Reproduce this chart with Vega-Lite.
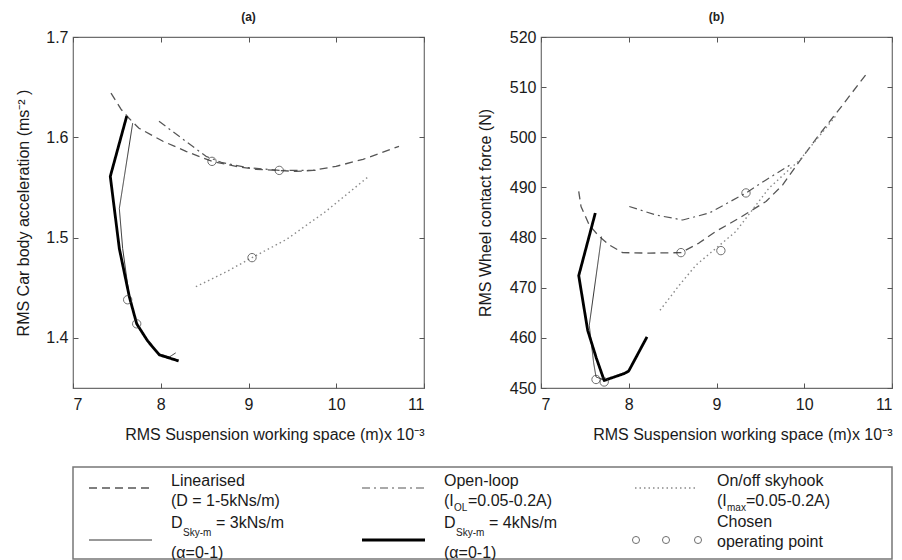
{
  "$schema": "https://vega.github.io/schema/vega-lite/v6.json",
  "background": "white",
  "padding": {"left": 15, "top": 10, "right": 0, "bottom": 0},
  "spacing": 23,
  "config": {
    "font": "Liberation Sans",
    "view": {"stroke": "#6e6e6e", "strokeWidth": 1.2},
    "axis": {
      "labelFont": "Liberation Sans",
      "labelFontSize": 16,
      "labelColor": "#1a1a1a",
      "titleFont": "Liberation Sans",
      "titleFontSize": 16,
      "titleFontWeight": "normal",
      "titleColor": "#1a1a1a",
      "tickSize": -5,
      "tickColor": "#555555",
      "domain": false,
      "grid": false
    },
    "title": {"font": "Liberation Sans", "fontSize": 12, "fontWeight": "bold", "color": "#222222", "offset": 5}
  },
  "datasets": {
    "aLines": [
      {"s": "lin", "i": 0, "x": 7.433, "y": 1.644},
      {"s": "lin", "i": 1, "x": 7.547, "y": 1.628},
      {"s": "lin", "i": 2, "x": 7.638, "y": 1.619},
      {"s": "lin", "i": 3, "x": 7.752, "y": 1.609},
      {"s": "lin", "i": 4, "x": 8.026, "y": 1.596},
      {"s": "lin", "i": 5, "x": 8.288, "y": 1.586},
      {"s": "lin", "i": 6, "x": 8.584, "y": 1.576},
      {"s": "lin", "i": 7, "x": 8.858, "y": 1.571},
      {"s": "lin", "i": 8, "x": 9.085, "y": 1.568},
      {"s": "lin", "i": 9, "x": 9.336, "y": 1.567},
      {"s": "lin", "i": 10, "x": 9.541, "y": 1.566},
      {"s": "lin", "i": 11, "x": 9.735, "y": 1.567},
      {"s": "lin", "i": 12, "x": 9.997, "y": 1.571},
      {"s": "lin", "i": 13, "x": 10.305, "y": 1.578},
      {"s": "lin", "i": 14, "x": 10.715, "y": 1.591},
      {"s": "ol", "i": 0, "x": 7.98, "y": 1.616},
      {"s": "ol", "i": 1, "x": 8.254, "y": 1.598},
      {"s": "ol", "i": 2, "x": 8.516, "y": 1.581},
      {"s": "ol", "i": 3, "x": 8.69, "y": 1.575},
      {"s": "ol", "i": 4, "x": 8.97, "y": 1.57},
      {"s": "ol", "i": 5, "x": 9.35, "y": 1.567},
      {"s": "ol", "i": 6, "x": 9.62, "y": 1.567},
      {"s": "ol", "i": 7, "x": 9.77, "y": 1.567},
      {"s": "sky", "i": 0, "x": 8.4, "y": 1.451},
      {"s": "sky", "i": 1, "x": 8.75, "y": 1.466},
      {"s": "sky", "i": 2, "x": 9.04, "y": 1.48},
      {"s": "sky", "i": 3, "x": 9.43, "y": 1.498},
      {"s": "sky", "i": 4, "x": 9.88, "y": 1.526},
      {"s": "sky", "i": 5, "x": 10.37, "y": 1.561},
      {"s": "d3", "i": 0, "x": 7.68, "y": 1.614},
      {"s": "d3", "i": 1, "x": 7.528, "y": 1.529},
      {"s": "d3", "i": 2, "x": 7.566, "y": 1.489},
      {"s": "d3", "i": 3, "x": 7.642, "y": 1.441},
      {"s": "d3", "i": 4, "x": 7.726, "y": 1.414},
      {"s": "d3", "i": 5, "x": 7.85, "y": 1.397},
      {"s": "d3", "i": 6, "x": 7.984, "y": 1.384},
      {"s": "d3", "i": 7, "x": 8.1, "y": 1.381},
      {"s": "d3", "i": 8, "x": 8.17, "y": 1.385},
      {"s": "d4", "i": 0, "x": 7.612, "y": 1.621},
      {"s": "d4", "i": 1, "x": 7.425, "y": 1.561},
      {"s": "d4", "i": 2, "x": 7.528, "y": 1.489},
      {"s": "d4", "i": 3, "x": 7.642, "y": 1.441},
      {"s": "d4", "i": 4, "x": 7.726, "y": 1.414},
      {"s": "d4", "i": 5, "x": 7.85, "y": 1.397},
      {"s": "d4", "i": 6, "x": 7.984, "y": 1.383},
      {"s": "d4", "i": 7, "x": 8.204, "y": 1.377}
    ],
    "aPoints": [
      {"x": 8.584, "y": 1.576},
      {"x": 9.35, "y": 1.567},
      {"x": 9.04, "y": 1.48},
      {"x": 7.623, "y": 1.438},
      {"x": 7.726, "y": 1.414}
    ],
    "bLines": [
      {"s": "lin", "i": 0, "x": 7.43, "y": 489.2},
      {"s": "lin", "i": 1, "x": 7.456, "y": 486.2},
      {"s": "lin", "i": 2, "x": 7.55, "y": 482.5},
      {"s": "lin", "i": 3, "x": 7.664, "y": 480.2},
      {"s": "lin", "i": 4, "x": 7.78, "y": 478.5},
      {"s": "lin", "i": 5, "x": 7.93, "y": 477.0},
      {"s": "lin", "i": 6, "x": 8.234, "y": 476.9},
      {"s": "lin", "i": 7, "x": 8.595, "y": 477.0},
      {"s": "lin", "i": 8, "x": 8.8, "y": 478.9},
      {"s": "lin", "i": 9, "x": 8.99, "y": 481.2},
      {"s": "lin", "i": 10, "x": 9.26, "y": 483.9},
      {"s": "lin", "i": 11, "x": 9.564, "y": 487.2},
      {"s": "lin", "i": 12, "x": 9.754, "y": 490.5},
      {"s": "lin", "i": 13, "x": 9.944, "y": 495.2},
      {"s": "lin", "i": 14, "x": 10.17, "y": 500.5},
      {"s": "lin", "i": 15, "x": 10.44, "y": 506.5},
      {"s": "lin", "i": 16, "x": 10.72, "y": 512.9},
      {"s": "ol", "i": 0, "x": 8.006, "y": 486.2},
      {"s": "ol", "i": 1, "x": 8.31, "y": 484.5},
      {"s": "ol", "i": 2, "x": 8.615, "y": 483.5},
      {"s": "ol", "i": 3, "x": 8.918, "y": 484.9},
      {"s": "ol", "i": 4, "x": 9.336, "y": 488.9},
      {"s": "ol", "i": 5, "x": 9.564, "y": 491.5},
      {"s": "ol", "i": 6, "x": 9.85, "y": 494.6},
      {"s": "sky", "i": 0, "x": 8.356, "y": 465.5},
      {"s": "sky", "i": 1, "x": 8.576, "y": 470.5},
      {"s": "sky", "i": 2, "x": 8.766, "y": 474.5},
      {"s": "sky", "i": 3, "x": 9.22, "y": 481.2},
      {"s": "sky", "i": 4, "x": 9.6, "y": 489.9},
      {"s": "sky", "i": 5, "x": 9.95, "y": 495.5},
      {"s": "sky", "i": 6, "x": 10.37, "y": 504.5},
      {"s": "d3", "i": 0, "x": 7.69, "y": 480.2},
      {"s": "d3", "i": 1, "x": 7.55, "y": 462.5},
      {"s": "d3", "i": 2, "x": 7.6, "y": 455.0},
      {"s": "d3", "i": 3, "x": 7.627, "y": 452.2},
      {"s": "d3", "i": 4, "x": 7.72, "y": 451.6},
      {"s": "d3", "i": 5, "x": 7.85, "y": 452.2},
      {"s": "d3", "i": 6, "x": 7.98, "y": 453.0},
      {"s": "d4", "i": 0, "x": 7.619, "y": 484.9},
      {"s": "d4", "i": 1, "x": 7.43, "y": 472.4},
      {"s": "d4", "i": 2, "x": 7.532, "y": 461.5},
      {"s": "d4", "i": 3, "x": 7.63, "y": 456.0},
      {"s": "d4", "i": 4, "x": 7.72, "y": 451.5},
      {"s": "d4", "i": 5, "x": 7.95, "y": 452.9},
      {"s": "d4", "i": 6, "x": 8.0, "y": 453.4},
      {"s": "d4", "i": 7, "x": 8.208, "y": 460.2}
    ],
    "bPoints": [
      {"x": 8.595, "y": 477.0},
      {"x": 9.336, "y": 488.9},
      {"x": 9.05, "y": 477.4},
      {"x": 7.627, "y": 451.7},
      {"x": 7.72, "y": 451.2}
    ],
    "legSym": [
      {"c": 0, "r": 0, "s": "lin"},
      {"c": 1, "r": 0, "s": "ol"},
      {"c": 2, "r": 0, "s": "sky"},
      {"c": 0, "r": 1, "s": "d3"},
      {"c": 1, "r": 1, "s": "d4"}
    ],
    "legDot": [
      {"c": 2, "r": 1}
    ],
    "legText": [
      {"c": 0, "r": 0, "part": "name", "t": "Linearised"},
      {"c": 1, "r": 0, "part": "name", "t": "Open-loop"},
      {"c": 2, "r": 0, "part": "name", "t": "On/off skyhook"},
      {"c": 0, "r": 0, "part": "param", "t": "(D = 1-5kNs/m)"},
      {"c": 1, "r": 0, "part": "pre", "t": "(I"},
      {"c": 1, "r": 0, "part": "sub", "t": "OL"},
      {"c": 1, "r": 0, "part": "post", "t": "=0.05-0.2A)"},
      {"c": 2, "r": 0, "part": "pre", "t": "(I"},
      {"c": 2, "r": 0, "part": "sub", "t": "max"},
      {"c": 2, "r": 0, "part": "post", "t": "=0.05-0.2A)"},
      {"c": 0, "r": 1, "part": "pre", "t": "D"},
      {"c": 0, "r": 1, "part": "sub", "t": "Sky-m"},
      {"c": 0, "r": 1, "part": "post", "t": "= 3kNs/m"},
      {"c": 0, "r": 1, "part": "param", "t": "(α=0-1)"},
      {"c": 1, "r": 1, "part": "pre", "t": "D"},
      {"c": 1, "r": 1, "part": "sub", "t": "Sky-m"},
      {"c": 1, "r": 1, "part": "post", "t": "= 4kNs/m"},
      {"c": 1, "r": 1, "part": "param", "t": "(α=0-1)"},
      {"c": 2, "r": 1, "part": "name", "t": "Chosen"},
      {"c": 2, "r": 1, "part": "param", "t": "operating point"}
    ]
  },
  "vconcat": [
    {
      "bounds": "flush",
      "spacing": 117,
      "hconcat": [
        {
          "width": 351,
          "height": 351,
          "title": {"text": "(a)"},
          "resolve": {"axis": {"x": "independent", "y": "independent"}},
          "layer": [
            {
              "data": {"name": "aLines"},
              "mark": {"type": "line", "strokeCap": "butt", "strokeJoin": "round"},
              "encoding": {
                "x": {"field": "x", "type": "quantitative", "scale": {"domain": [7, 11], "nice": false, "zero": false},
                      "axis": {"orient": "bottom", "values": [7, 8, 9, 10, 11], "format": "d", "labelPadding": 13,
                               "title": "RMS Suspension working space (m)x 10⁻³", "titleAnchor": "end", "titlePadding": 14}},
                "y": {"field": "y", "type": "quantitative", "scale": {"domain": [1.35, 1.7], "nice": false, "zero": false},
                      "axis": {"orient": "left", "values": [1.4, 1.5, 1.6, 1.7], "format": ".1f", "labelPadding": 10,
                               "title": "RMS Car body acceleration (ms⁻² )", "titlePadding": 14}},
                "order": {"field": "i", "type": "quantitative"},
                "color": {"field": "s", "type": "nominal", "legend": null,
                          "scale": {"domain": ["lin", "ol", "sky", "d3", "d4"], "range": ["#555555", "#555555", "#8a8a8a", "#333333", "#000000"]}},
                "strokeDash": {"field": "s", "type": "nominal", "legend": null,
                               "scale": {"domain": ["lin", "ol", "sky", "d3", "d4"], "range": [[8, 5], [8, 4, 2, 4], [1.5, 3], [1, 0], [1, 0]]}},
                "strokeWidth": {"field": "s", "type": "nominal", "legend": null,
                                "scale": {"type": "ordinal", "domain": ["lin", "ol", "sky", "d3", "d4"], "range": [1.3, 1.2, 1.4, 1, 2.8]}}
              }
            },
            {
              "data": {"name": "aPoints"},
              "mark": {"type": "point", "shape": "circle", "filled": false, "size": 70, "color": "#333333", "strokeWidth": 1},
              "encoding": {
                "x": {"field": "x", "type": "quantitative", "scale": {"domain": [7, 11], "nice": false, "zero": false},
                      "axis": {"orient": "top", "values": [7, 8, 9, 10, 11], "labels": false, "title": null}},
                "y": {"field": "y", "type": "quantitative", "scale": {"domain": [1.35, 1.7], "nice": false, "zero": false},
                      "axis": {"orient": "right", "values": [1.4, 1.5, 1.6, 1.7], "labels": false, "title": null}}
              }
            }
          ]
        },
        {
          "width": 351,
          "height": 351,
          "title": {"text": "(b)"},
          "resolve": {"axis": {"x": "independent", "y": "independent"}},
          "layer": [
            {
              "data": {"name": "bLines"},
              "mark": {"type": "line", "strokeCap": "butt", "strokeJoin": "round"},
              "encoding": {
                "x": {"field": "x", "type": "quantitative", "scale": {"domain": [7, 11], "nice": false, "zero": false},
                      "axis": {"orient": "bottom", "values": [7, 8, 9, 10, 11], "format": "d", "labelPadding": 13,
                               "title": "RMS Suspension working space (m)x 10⁻³", "titleAnchor": "end", "titlePadding": 14}},
                "y": {"field": "y", "type": "quantitative", "scale": {"domain": [450, 520], "nice": false, "zero": false},
                      "axis": {"orient": "left", "values": [450, 460, 470, 480, 490, 500, 510, 520], "format": "d", "labelPadding": 10,
                               "title": "RMS Wheel contact force (N)", "titlePadding": 16}},
                "order": {"field": "i", "type": "quantitative"},
                "color": {"field": "s", "type": "nominal", "legend": null,
                          "scale": {"domain": ["lin", "ol", "sky", "d3", "d4"], "range": ["#555555", "#555555", "#8a8a8a", "#333333", "#000000"]}},
                "strokeDash": {"field": "s", "type": "nominal", "legend": null,
                               "scale": {"domain": ["lin", "ol", "sky", "d3", "d4"], "range": [[8, 5], [8, 4, 2, 4], [1.5, 3], [1, 0], [1, 0]]}},
                "strokeWidth": {"field": "s", "type": "nominal", "legend": null,
                                "scale": {"type": "ordinal", "domain": ["lin", "ol", "sky", "d3", "d4"], "range": [1.3, 1.2, 1.4, 1, 2.8]}}
              }
            },
            {
              "data": {"name": "bPoints"},
              "mark": {"type": "point", "shape": "circle", "filled": false, "size": 70, "color": "#333333", "strokeWidth": 1},
              "encoding": {
                "x": {"field": "x", "type": "quantitative", "scale": {"domain": [7, 11], "nice": false, "zero": false},
                      "axis": {"orient": "top", "values": [7, 8, 9, 10, 11], "labels": false, "title": null}},
                "y": {"field": "y", "type": "quantitative", "scale": {"domain": [450, 520], "nice": false, "zero": false},
                      "axis": {"orient": "right", "values": [450, 460, 470, 480, 490, 500, 510, 520], "labels": false, "title": null}}
              }
            }
          ]
        }
      ]
    },
    {
      "width": 819,
      "height": 92,
      "view": {"stroke": "#777777", "strokeWidth": 1.5},
      "encoding": {
        "x": {"field": "c", "type": "quantitative", "scale": {"domain": [0, 3], "nice": false, "zero": false}, "axis": null},
        "y": {"field": "r", "type": "quantitative", "scale": {"domain": [0, 1], "range": [21, 73], "nice": false, "zero": false}, "axis": null}
      },
      "layer": [
        {
          "data": {"name": "legSym"},
          "mark": {"type": "rule", "xOffset": 16, "x2Offset": 79, "strokeCap": "butt"},
          "encoding": {
            "x2": {"field": "c"},
            "color": {"field": "s", "type": "nominal", "legend": null,
                      "scale": {"domain": ["lin", "ol", "sky", "d3", "d4"], "range": ["#555555", "#555555", "#8a8a8a", "#333333", "#000000"]}},
            "strokeDash": {"field": "s", "type": "nominal", "legend": null,
                           "scale": {"domain": ["lin", "ol", "sky", "d3", "d4"], "range": [[8, 5], [8, 4, 2, 4], [1.5, 3], [1, 0], [1, 0]]}},
            "strokeWidth": {"field": "s", "type": "nominal", "legend": null,
                            "scale": {"type": "ordinal", "domain": ["lin", "ol", "sky", "d3", "d4"], "range": [1.3, 1.2, 1.4, 1, 2.8]}}
          }
        },
        {"data": {"name": "legDot"}, "mark": {"type": "point", "shape": "circle", "filled": false, "size": 50, "color": "#333333", "strokeWidth": 1, "xOffset": 17}},
        {"data": {"name": "legDot"}, "mark": {"type": "point", "shape": "circle", "filled": false, "size": 50, "color": "#333333", "strokeWidth": 1, "xOffset": 47}},
        {"data": {"name": "legDot"}, "mark": {"type": "point", "shape": "circle", "filled": false, "size": 50, "color": "#333333", "strokeWidth": 1, "xOffset": 79}},
        {
          "data": {"name": "legText"},
          "transform": [{"filter": "datum.part == 'name' && datum.r == 0"}],
          "mark": {"type": "text", "align": "left", "baseline": "middle", "dx": 98, "dy": -7, "fontSize": 16, "color": "#1a1a1a"},
          "encoding": {"text": {"field": "t"}}
        },
        {
          "data": {"name": "legText"},
          "transform": [{"filter": "(datum.part == 'param' || datum.part == 'pre') && datum.r == 0"}],
          "mark": {"type": "text", "align": "left", "baseline": "middle", "dx": 98, "dy": 13, "fontSize": 16, "color": "#1a1a1a"},
          "encoding": {"text": {"field": "t"}}
        },
        {
          "data": {"name": "legText"},
          "transform": [{"filter": "datum.part == 'sub' && datum.r == 0"}],
          "mark": {"type": "text", "align": "left", "baseline": "middle", "dx": 108, "dy": 20, "fontSize": 10, "color": "#1a1a1a"},
          "encoding": {"text": {"field": "t"}}
        },
        {
          "data": {"name": "legText"},
          "transform": [{"filter": "datum.part == 'post' && datum.r == 0 && datum.c == 1"}],
          "mark": {"type": "text", "align": "left", "baseline": "middle", "dx": 122, "dy": 13, "fontSize": 16, "color": "#1a1a1a"},
          "encoding": {"text": {"field": "t"}}
        },
        {
          "data": {"name": "legText"},
          "transform": [{"filter": "datum.part == 'post' && datum.r == 0 && datum.c == 2"}],
          "mark": {"type": "text", "align": "left", "baseline": "middle", "dx": 127, "dy": 13, "fontSize": 16, "color": "#1a1a1a"},
          "encoding": {"text": {"field": "t"}}
        },
        {
          "data": {"name": "legText"},
          "transform": [{"filter": "datum.part == 'pre' && datum.r == 1"}],
          "mark": {"type": "text", "align": "left", "baseline": "middle", "dx": 98, "dy": -17, "fontSize": 16, "color": "#1a1a1a"},
          "encoding": {"text": {"field": "t"}}
        },
        {
          "data": {"name": "legText"},
          "transform": [{"filter": "datum.part == 'sub' && datum.r == 1"}],
          "mark": {"type": "text", "align": "left", "baseline": "middle", "dx": 110, "dy": -7, "fontSize": 10, "color": "#1a1a1a"},
          "encoding": {"text": {"field": "t"}}
        },
        {
          "data": {"name": "legText"},
          "transform": [{"filter": "datum.part == 'post' && datum.r == 1"}],
          "mark": {"type": "text", "align": "left", "baseline": "middle", "dx": 143, "dy": -17, "fontSize": 16, "color": "#1a1a1a"},
          "encoding": {"text": {"field": "t"}}
        },
        {
          "data": {"name": "legText"},
          "transform": [{"filter": "datum.part == 'param' && datum.r == 1 && datum.c < 2"}],
          "mark": {"type": "text", "align": "left", "baseline": "middle", "dx": 98, "dy": 13, "fontSize": 16, "color": "#1a1a1a"},
          "encoding": {"text": {"field": "t"}}
        },
        {
          "data": {"name": "legText"},
          "transform": [{"filter": "datum.part == 'name' && datum.r == 1 && datum.c == 2"}],
          "mark": {"type": "text", "align": "left", "baseline": "middle", "dx": 98, "dy": -18, "fontSize": 16, "color": "#1a1a1a"},
          "encoding": {"text": {"field": "t"}}
        },
        {
          "data": {"name": "legText"},
          "transform": [{"filter": "datum.part == 'param' && datum.r == 1 && datum.c == 2"}],
          "mark": {"type": "text", "align": "left", "baseline": "middle", "dx": 98, "dy": 2, "fontSize": 16, "color": "#1a1a1a"},
          "encoding": {"text": {"field": "t"}}
        }
      ]
    }
  ]
}
